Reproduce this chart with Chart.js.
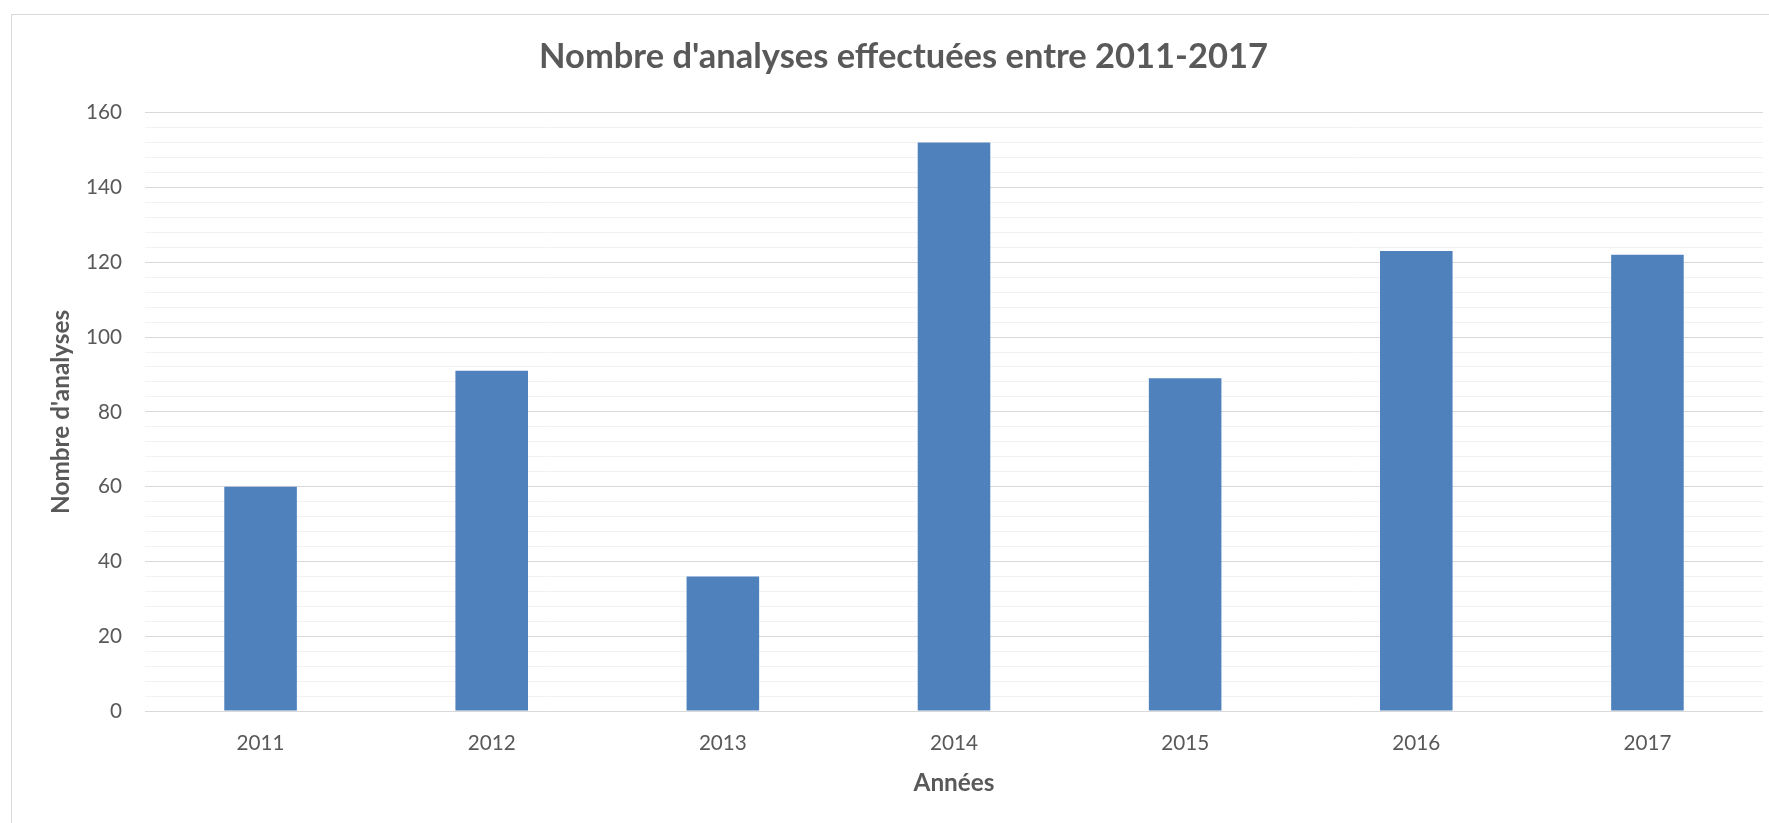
<!DOCTYPE html>
<html><head><meta charset="utf-8">
<script src="https://cdn.jsdelivr.net/npm/chart.js@4.4.0/dist/chart.umd.min.js"></script>
<style>
html,body{margin:0;padding:0;background:#fff;overflow:hidden;width:1769px;height:823px;}
#box{position:absolute;left:11px;top:14px;width:1784px;height:820px;border:1px solid #d9d9d9;background:#fff;}
canvas{display:block;}
</style></head><body>
<div id="box"><canvas id="c" width="1784" height="808" style="width:1784px;height:808px"></canvas></div>
<script>
// ---- data ----
const years = ['2011', '2012', '2013', '2014', '2015', '2016', '2017'];
const analyses = [60, 91, 36, 152, 89, 123, 122];
const yMajorTicks = [0, 20, 40, 60, 80, 100, 120, 140, 160];
const chartTitle = "Nombre d'analyses effectuées entre 2011-2017";
const xTitle = 'Années';
const yTitle = "Nombre d'analyses";

// ---- styling ----
const FAMILY = 'Lato, "Open Sans", sans-serif';
const TEXT = '#595959';
const BAR = '#4f81bd';

function fitSize(text, weight, target) {
  const ctx = document.createElement('canvas').getContext('2d');
  ctx.font = weight + ' 100px ' + FAMILY;
  return 100 * target / ctx.measureText(text).width;
}
const titleSize = fitSize(chartTitle, 'bold', 729);
const tickSize = fitSize('2011', 'normal', 48);
const axisTitleSize = fitSize(xTitle, 'bold', 81);

// layout targets (canvas coordinates)
const areaTop = 97.7, areaBottom = 696, areaLeft = 133, areaRight = 1751;
const padLeft = 32;
const W = 1784, H = 808;

Chart.defaults.font.family = FAMILY;
Chart.defaults.color = TEXT;

new Chart(document.getElementById('c'), {
  type: 'bar',
  data: {
    labels: years,
    datasets: [{
      data: analyses,
      backgroundColor: BAR,
      borderWidth: 0,
      categoryPercentage: 1,
      barPercentage: 0.314
    }]
  },
  options: {
    responsive: false,
    animation: false,
    layout: { padding: { left: padLeft, right: W - areaRight, top: 0, bottom: 0 } },
    plugins: {
      legend: { display: false },
      tooltip: { enabled: false },
      title: {
        display: true,
        text: chartTitle,
        color: TEXT,
        font: { size: titleSize, weight: 'bold', family: FAMILY },
        padding: { top: 42 - 0.6 * titleSize, bottom: areaTop - 1.2 * titleSize - (42 - 0.6 * titleSize) }
      }
    },
    scales: {
      x: {
        grid: { display: false, drawTicks: false },
        border: { display: false },
        ticks: { color: TEXT, font: { size: tickSize }, padding: 32 - 0.6 * tickSize },
        title: {
          display: true, text: xTitle, color: TEXT,
          font: { size: axisTitleSize, weight: 'bold' },
          padding: { top: 0, bottom: 40 - 0.6 * axisTitleSize }
        },
        afterFit: s => { s.height = H - areaBottom; }
      },
      y: {
        min: 0, max: 160,
        border: { display: false },
        grid: {
          drawTicks: false,
          lineWidth: 1,
          color: c => (yMajorTicks.includes(c.tick.value) ? '#d9d9d9' : '#f2f2f2')
        },
        ticks: {
          stepSize: 4,
          autoSkip: false,
          color: TEXT,
          font: { size: tickSize },
          padding: 23,
          callback: v => (yMajorTicks.includes(v) ? String(v) : '')
        },
        title: {
          display: true, text: yTitle, color: TEXT,
          font: { size: axisTitleSize, weight: 'bold' },
          padding: { top: 17 - 0.6 * axisTitleSize, bottom: 0 }
        },
        afterFit: s => { s.width = areaLeft - padLeft; }
      }
    }
  }
});
</script>
</body></html>
